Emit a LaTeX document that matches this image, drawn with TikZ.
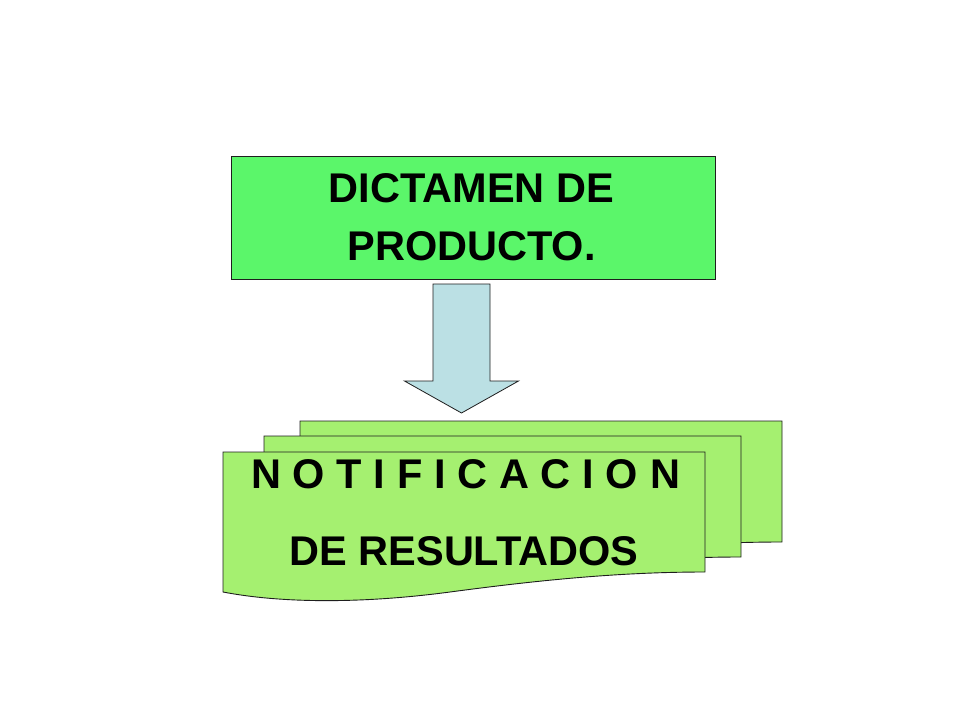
\documentclass[tikz,border=0pt]{standalone}
\usepackage{fontspec}
\setmainfont{Liberation Sans}
\definecolor{topgreen}{RGB}{91,246,106}
\definecolor{docgreen}{RGB}{165,240,112}
\definecolor{arrowblue}{RGB}{187,224,228}
\definecolor{edge}{RGB}{30,30,30}
\tikzset{
  outline/.style={draw=edge, line width=0.9pt},
  bigtext/.style={font=\fontsize{41.5}{47}\selectfont\bfseries, inner sep=0pt, anchor=base},
}
\begin{document}
\begin{tikzpicture}[x=1pt,y=-1pt]
\useasboundingbox (0,0) rectangle (960,720);
\fill[white] (0,0) rectangle (960,720);

% top box
\node[outline, fill=topgreen, rectangle, minimum width=484pt, minimum height=123pt, anchor=north west, inner sep=0pt] (dict) at (231,156) {};
\node[bigtext] (dict1) at (471.5,202) {DICTAMEN DE};
\node[bigtext] (dict2) at (471.5,260) {PRODUCTO.};

% arrow
\coordinate (arrtop) at (461.5,284);
\coordinate (arrtip) at (461.5,413);
\draw[outline, fill=arrowblue, line width=0.8pt]
  ([xshift=-28.5pt]arrtop) -- ([xshift=28.5pt]arrtop)
  -- ([xshift=28.5pt,yshift=32pt]arrtip) -- ([xshift=57pt,yshift=32pt]arrtip)
  -- (arrtip)
  -- ([xshift=-57pt,yshift=32pt]arrtip) -- ([xshift=-28.5pt,yshift=32pt]arrtip)
  -- cycle;

% stacked documents (back to front)
\draw[outline, fill=docgreen]
  (300,421) -- (782,421) -- (782,542)
  .. controls (700,542) and (620,549) .. (530,561)
  .. controls (440,573) and (360,574) .. (300,563) -- cycle;
\draw[outline, fill=docgreen]
  (264,436) -- (741,436) -- (741,557)
  .. controls (660,557) and (580,564) .. (490,576)
  .. controls (400,588) and (320,589) .. (264,578) -- cycle;
\draw[outline, fill=docgreen]
  (223,452) -- (705,452) -- (705,572)
  .. controls (620,572) and (540,580) .. (450,592)
  .. controls (360,604) and (280,603) .. (223,592) -- cycle;

\node[bigtext] (notif) at (465.5,488) {\makebox[429pt][s]{N O T I F I C A C I O N}};
\node[bigtext] (res) at (464,565) {DE RESULTADOS};
\end{tikzpicture}
\end{document}
